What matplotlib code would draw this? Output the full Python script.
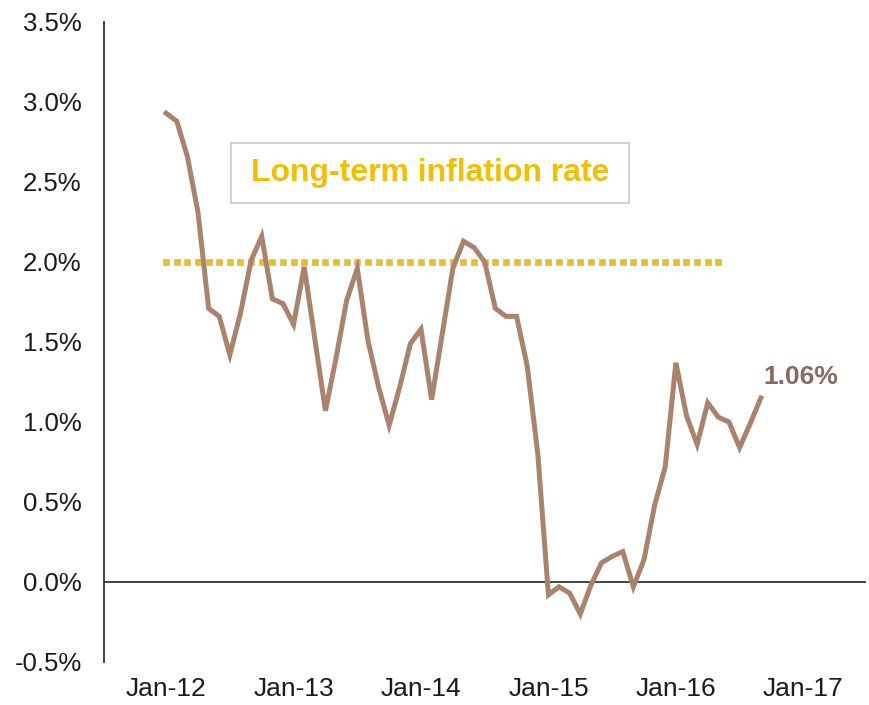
'''inflation rate vs long-term target'''
import numpy as np
import matplotlib.pyplot as plt
from matplotlib import rcParams
from matplotlib.patches import Rectangle
rcParams.update({'font.family': 'Liberation Sans', 'font.size': 18})

# monthly inflation, Jan-12 .. Sep-16 (%)
cpi = [2.93, 2.88, 2.66, 2.31, 1.71, 1.66, 1.42, 1.68, 2.01, 2.16, 1.77, 1.74,
       1.61, 1.97, 1.52, 1.07, 1.40, 1.76, 1.96, 1.51, 1.22, 0.98, 1.22, 1.49,
       1.58, 1.14, 1.55, 1.96, 2.13, 2.09, 2.00, 1.71, 1.66, 1.66, 1.35, 0.80,
       -0.08, -0.03, -0.07, -0.20, -0.02, 0.12, 0.16, 0.19, -0.03, 0.14, 0.48, 0.72,
       1.37, 1.04, 0.86, 1.12, 1.03, 1.00, 0.84, 0.99, 1.15]
target = 2.0
target_months = 53          # Jan-12 .. May-16
last_label = '1.06%'
box_label = 'Long-term inflation rate'
xticklabels = ['Jan-12', 'Jan-13', 'Jan-14', 'Jan-15', 'Jan-16', 'Jan-17']
yticks = [-0.5, 0.0, 0.5, 1.0, 1.5, 2.0, 2.5, 3.0, 3.5]

months = np.arange(len(cpi))
tm = np.arange(target_months)

fig = plt.figure(figsize=(8.69, 7.05), dpi=100)
ax = fig.add_axes([0.1197, 0.061, 0.8768, 0.9078])

# target line (dotted squares)
ax.plot(tm, np.full(len(tm), target), ls='none', marker='s', ms=4.6,
        mfc='#E6C02A', mec='#D6C27E', mew=0.6, zorder=2)

# inflation
ax.plot(months, cpi, c='#AA836F', lw=3.6, solid_joinstyle='miter', zorder=3)

ax.axhline(0, c='#222222', lw=1.2, zorder=1)

ax.text(months[-1] + 0.2, cpi[-1] + 0.13, last_label, color='#8A6A60',
        fontsize=19, fontweight='bold', ha='left', va='center')

ax.add_patch(Rectangle((6.1, 2.37), 37.5, 0.375, fill=False, ec='#C8C8C8', lw=1.2))
ax.text(24.85, 2.556, box_label, color='#F2BE0A', fontsize=23, fontweight='bold',
        ha='center', va='center')

ax.set_xlim(-5.85, 65.9)
ax.set_ylim(-0.5, 3.5)
ax.set_xticks(np.arange(0, 61, 12))
ax.set_xticklabels(xticklabels, fontsize=19)
ax.set_yticks(yticks)
ax.set_yticklabels(['%.1f%%' % v for v in yticks], fontsize=18.5)
ax.tick_params(axis='both', length=0, colors='#1a1a1a')
ax.tick_params(axis='y', pad=16)
ax.tick_params(axis='x', pad=11)

for s in ['top', 'right', 'bottom']:
    ax.spines[s].set_visible(False)
ax.spines['left'].set_color('#333333')
ax.spines['left'].set_linewidth(1.3)

plt.savefig('out.png', dpi=100)
